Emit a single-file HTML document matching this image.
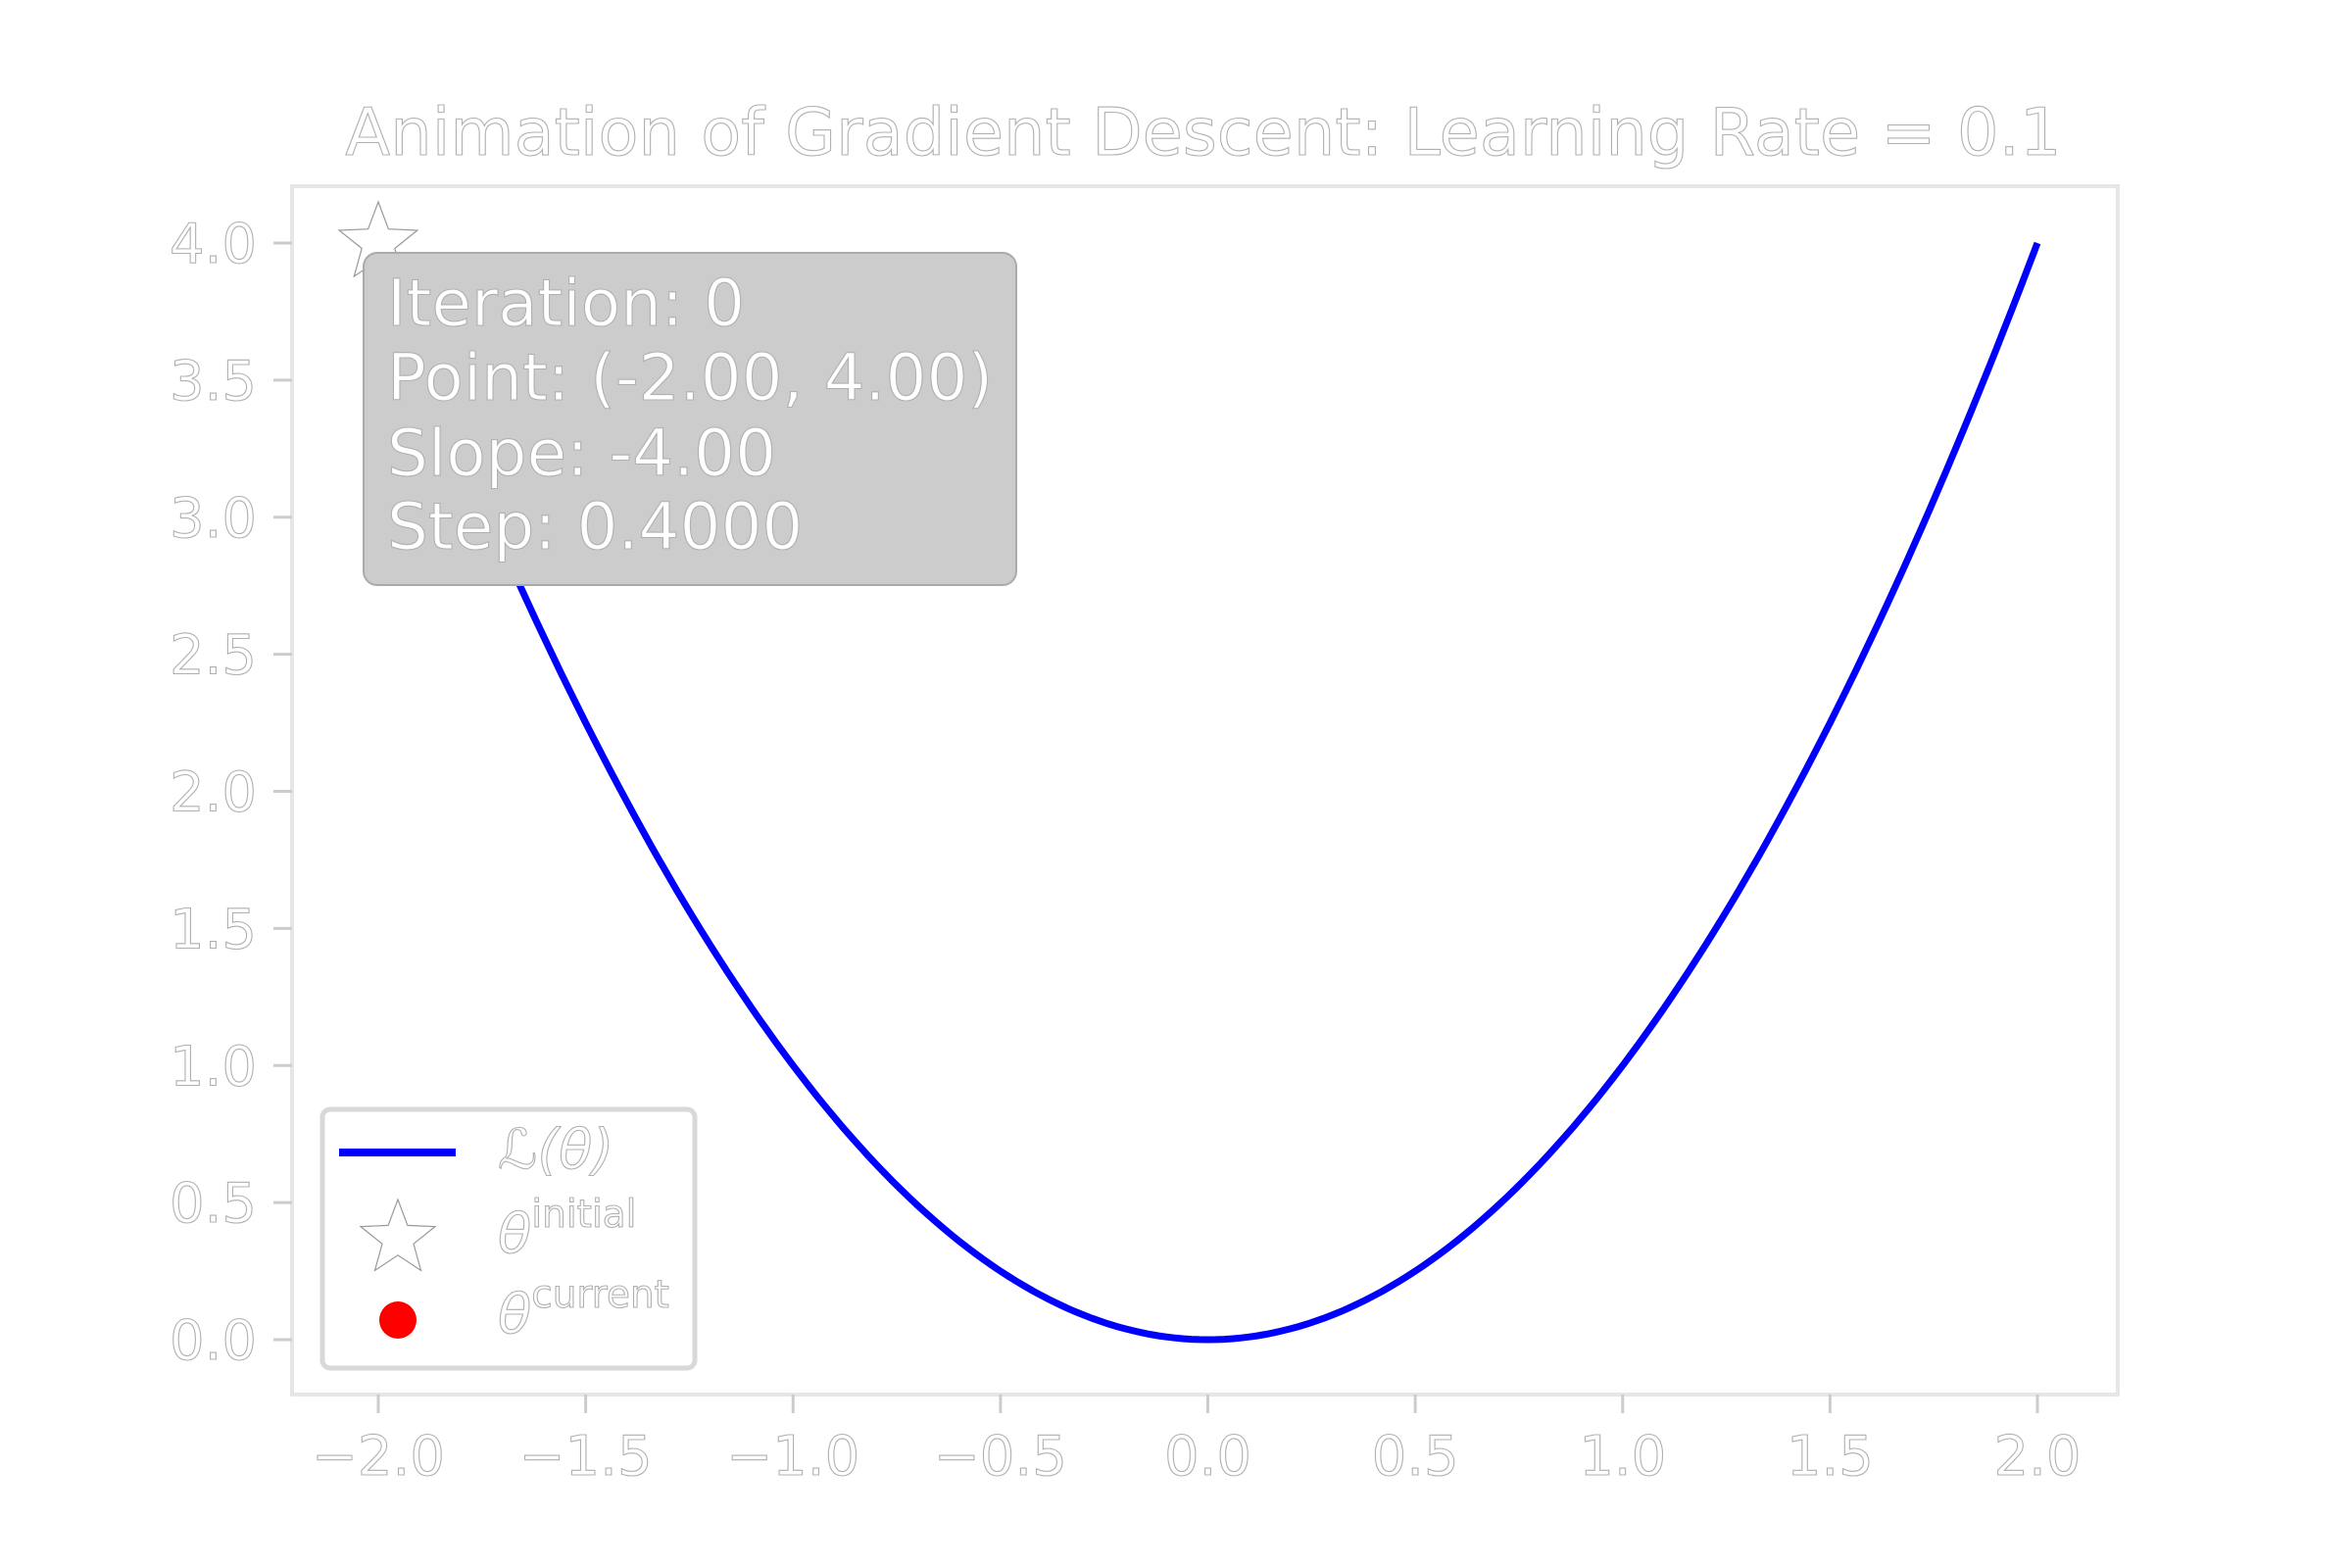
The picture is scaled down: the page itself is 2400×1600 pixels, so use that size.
<!DOCTYPE html>
<html><head><meta charset="utf-8"><style>
html,body{margin:0;padding:0;background:#fff;}
svg{display:block;}
text{font-family:"DejaVu Sans","Liberation Sans",sans-serif;fill:#fff;stroke:#b0b0b0;stroke-width:1.1px;}
</style></head><body>
<svg id="chart" width="2400" height="1600" viewBox="0 0 2400 1600">
<rect x="0" y="0" width="2400" height="1600" fill="#fff"/>
<text x="1228" y="158" font-size="67" text-anchor="middle">Animation of Gradient Descent: Learning Rate = 0.1</text>
<g id="axes">
<rect x="298" y="190" width="1863" height="1233" fill="none" stroke="#ccc" stroke-width="3"/>
<rect x="298" y="190" width="1863" height="1233" fill="none" stroke="#fff" stroke-width="1"/>
</g>
<g id="ticks"></g>
<path id="curve" fill="none" stroke="#0000ff" stroke-width="7"/>
<g id="infobox">
<rect x="371" y="258" width="666" height="339" rx="14" fill="#cccccc" stroke="#aaa" stroke-width="2"/>
<text x="395" y="332" font-size="66">Iteration: 0</text>
<text x="395" y="408" font-size="66">Point: (-2.00, 4.00)</text>
<text x="395" y="485" font-size="66">Slope: -4.00</text>
<text x="395" y="560" font-size="66">Step: 0.4000</text>
</g>
<g id="legend">
<rect x="329" y="1132" width="380" height="264" rx="8" fill="#fff" stroke="#d8d8d8" stroke-width="5"/>
<line x1="346" y1="1176" x2="465" y2="1176" stroke="#0000ff" stroke-width="8"/>
<text x="508" y="1192" font-size="56" font-style="italic" font-family="DejaVu Serif, serif">ℒ(θ)</text>
<polygon id="legstar" fill="#fff" stroke="#999" stroke-width="1.2"/>
<text x="508" y="1278" font-size="56" font-style="italic" font-family="DejaVu Serif, serif">θ<tspan font-size="39" dy="-26" font-style="normal" font-family="DejaVu Sans, sans-serif">initial</tspan></text>
<circle cx="406" cy="1347" r="19" fill="#ff0000"/>
<text x="508" y="1360" font-size="56" font-style="italic" font-family="DejaVu Serif, serif">θ<tspan font-size="39" dy="-26" font-style="normal" font-family="DejaVu Sans, sans-serif">current</tspan></text>
</g>
</svg>
<script>
const xTicks = [-2.0, -1.5, -1.0, -0.5, 0.0, 0.5, 1.0, 1.5, 2.0];
const yTicks = [0.0, 0.5, 1.0, 1.5, 2.0, 2.5, 3.0, 3.5, 4.0];
const initialPoint = [-2.0, 4.0];
const curveX = [];
for (let i = 0; i <= 200; i++) curveX.push(-2 + 4 * i / 200);
const curveY = curveX.map(v => v * v);

const NS = "http://www.w3.org/2000/svg";
const sx = v => 386 + (v + 2) / 4 * (2079 - 386);
const sy = v => 1367 - v / 4 * (1367 - 248);
const fmt = v => (v < 0 ? "\u2212" : "") + Math.abs(v).toFixed(1);
const tg = document.getElementById("ticks");
xTicks.forEach(t => {
  const l = document.createElementNS(NS, "line");
  l.setAttribute("x1", sx(t)); l.setAttribute("x2", sx(t));
  l.setAttribute("y1", 1423); l.setAttribute("y2", 1442);
  l.setAttribute("stroke", "#ccc"); l.setAttribute("stroke-width", "3");
  
  
  tg.appendChild(l);
  const tx = document.createElementNS(NS, "text");
  tx.setAttribute("x", sx(t)); tx.setAttribute("y", 1505);
  tx.setAttribute("font-size", "56"); tx.setAttribute("text-anchor", "middle");
  tx.textContent = fmt(t);
  
  
  tg.appendChild(tx);
});
yTicks.forEach(t => {
  const l = document.createElementNS(NS, "line");
  l.setAttribute("x1", 279); l.setAttribute("x2", 298);
  l.setAttribute("y1", sy(t)); l.setAttribute("y2", sy(t));
  l.setAttribute("stroke", "#ccc"); l.setAttribute("stroke-width", "3");
  
  
  tg.appendChild(l);
  const tx = document.createElementNS(NS, "text");
  tx.setAttribute("x", 262); tx.setAttribute("y", sy(t) + 20);
  tx.setAttribute("font-size", "56"); tx.setAttribute("text-anchor", "end");
  tx.textContent = fmt(t);
  
  
  tg.appendChild(tx);
});
let d = "";
curveX.forEach((v, i) => { d += (i ? "L" : "M") + sx(v).toFixed(1) + "," + sy(curveY[i]).toFixed(1); });
document.getElementById("curve").setAttribute("d", d);

function starPts(cx, cy, R) {
  const r = R * 0.42, p = [];
  for (let i = 0; i < 10; i++) {
    const a = -Math.PI / 2 + i * Math.PI / 5, rr = i % 2 ? r : R;
    p.push((cx + rr * Math.cos(a)).toFixed(1) + "," + (cy + rr * Math.sin(a)).toFixed(1));
  }
  return p.join(" ");
}
const svg = document.getElementById("chart");
const st = document.createElementNS(NS, "polygon");
st.setAttribute("points", starPts(sx(initialPoint[0]), sy(initialPoint[1]), 42));
st.setAttribute("fill", "#fff"); st.setAttribute("stroke", "#999"); st.setAttribute("stroke-width", "1.2");


svg.insertBefore(st, document.getElementById("infobox"));
document.getElementById("legstar").setAttribute("points", starPts(406, 1264, 40));
</script>
</body></html>
